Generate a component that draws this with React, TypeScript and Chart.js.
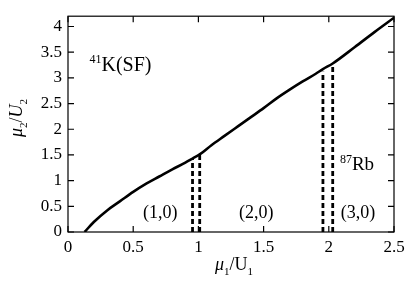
import { useEffect, useRef } from 'react';
import { Chart, registerables } from 'chart.js';

Chart.register(...registerables);

// Phase boundary curve mu2/U2 vs mu1/U1
const curveX = [0.127, 0.2, 0.3, 0.4, 0.5, 0.6, 0.7, 0.8, 0.9, 0.955, 1.01, 1.1, 1.2, 1.3, 1.4, 1.5, 1.6, 1.7, 1.8, 1.9, 1.955, 2.03, 2.2, 2.35, 2.5];
const curveY = [0.0, 0.2, 0.42, 0.6, 0.78, 0.94, 1.08, 1.22, 1.35, 1.43, 1.51, 1.69, 1.87, 2.05, 2.23, 2.41, 2.6, 2.77, 2.93, 3.08, 3.17, 3.28, 3.6, 3.89, 4.17];

// Dashed vertical boundaries (x position, top value)
const kDashX = [0.955, 1.01];
const kDashTop = [1.43, 1.51];
const rbDashX = [1.955, 2.03];
const rbDashTop = [3.12, 3.27];

const xTickValues = [0, 0.5, 1, 1.5, 2, 2.5];
const yTickValues = [0, 0.5, 1, 1.5, 2, 2.5, 3, 3.5, 4];

const phaseLabels = ['(1,0)', '(2,0)', '(3,0)'];
const phaseLabelX = [0.707, 1.444, 2.224];
const phaseLabelY = [0.37, 0.37, 0.37];

const SERIF = "'Liberation Serif', serif";

type Seg = { t: string; italic?: boolean; sub?: boolean; sup?: boolean };

function drawSegs(ctx: CanvasRenderingContext2D, segs: Seg[], x: number, y: number, size: number, align: 'left' | 'center') {
  const fontFor = (s: Seg) => `${s.italic ? 'italic ' : ''}${s.sub || s.sup ? Math.round(size * 0.62) : size}px ${SERIF}`;
  let total = 0;
  for (const s of segs) {
    ctx.font = fontFor(s);
    total += ctx.measureText(s.t).width;
  }
  let cx = align === 'center' ? x - total / 2 : x;
  ctx.textBaseline = 'alphabetic';
  ctx.textAlign = 'left';
  for (const s of segs) {
    ctx.font = fontFor(s);
    const dy = s.sub ? size * 0.25 : s.sup ? -size * 0.4 : 0;
    ctx.fillText(s.t, cx, y + dy);
    cx += ctx.measureText(s.t).width;
  }
}

const framePlugin = {
  id: 'frame',
  afterDraw(chart: any) {
    const { ctx, chartArea: a, scales } = chart;
    const xs = scales.x;
    const ys = scales.y;
    ctx.save();
    ctx.strokeStyle = '#000';
    ctx.lineWidth = 1.2;
    ctx.strokeRect(a.left, a.top, a.right - a.left, a.bottom - a.top);
    const tl = 6;
    ctx.beginPath();
    for (const v of xTickValues) {
      const px = xs.getPixelForValue(v);
      ctx.moveTo(px, a.bottom);
      ctx.lineTo(px, a.bottom - tl);
      ctx.moveTo(px, a.top);
      ctx.lineTo(px, a.top + tl);
    }
    for (const v of yTickValues) {
      const py = ys.getPixelForValue(v);
      ctx.moveTo(a.left, py);
      ctx.lineTo(a.left + tl, py);
      ctx.moveTo(a.right, py);
      ctx.lineTo(a.right - tl, py);
    }
    ctx.stroke();

    ctx.fillStyle = '#000';
    // phase labels
    ctx.font = `18px ${SERIF}`;
    ctx.textAlign = 'center';
    ctx.textBaseline = 'middle';
    phaseLabels.forEach((lab, i) => {
      ctx.fillText(lab, xs.getPixelForValue(phaseLabelX[i]), ys.getPixelForValue(phaseLabelY[i]));
    });
    // species labels
    drawSegs(ctx, [{ t: '41', sup: true }, { t: 'K(SF)' }], xs.getPixelForValue(0.165), ys.getPixelForValue(3.13), 20, 'left');
    drawSegs(ctx, [{ t: '87', sup: true }, { t: 'Rb' }], xs.getPixelForValue(2.085), ys.getPixelForValue(1.2), 19, 'left');

    // axis titles
    drawSegs(ctx, [{ t: 'μ', italic: true }, { t: '1', sub: true }, { t: '/U' }, { t: '1', sub: true }], 234, 270, 18, 'center');
    ctx.save();
    ctx.translate(22, 118);
    ctx.rotate(-Math.PI / 2);
    drawSegs(ctx, [{ t: 'μ', italic: true }, { t: '2', sub: true }, { t: '/' }, { t: 'U', italic: true }, { t: '2', sub: true }], 0, 0, 18, 'center');
    ctx.restore();
    ctx.restore();
  },
};

export default function App() {
  const ref = useRef<HTMLCanvasElement | null>(null);
  useEffect(() => {
    if (!ref.current) return;
    const dash = (xv: number, top: number) => ({
      data: [{ x: xv, y: 0 }, { x: xv, y: top }],
      borderColor: '#000',
      borderWidth: 2.8,
      borderDash: [5, 3],
      pointRadius: 0,
      showLine: true,
      fill: false,
    });
    const chart = new Chart(ref.current, {
      type: 'scatter',
      data: {
        datasets: [
          {
            data: curveX.map((x, i) => ({ x, y: curveY[i] })),
            borderColor: '#000',
            borderWidth: 2.6,
            pointRadius: 0,
            showLine: true,
            tension: 0.3,
            cubicInterpolationMode: 'monotone',
            fill: false,
          } as any,
          ...kDashX.map((x, i) => dash(x, kDashTop[i])),
          ...rbDashX.map((x, i) => dash(x, rbDashTop[i])),
        ],
      },
      options: {
        responsive: false,
        animation: false,
        layout: { padding: { top: 4, right: 21, left: 0, bottom: 0 } },
        plugins: { legend: { display: false }, tooltip: { enabled: false } },
        scales: {
          x: {
            type: 'linear',
            min: 0,
            max: 2.5,
            afterFit: (s: any) => { s.height = 54; },
            afterBuildTicks: (s: any) => { s.ticks = xTickValues.map((v) => ({ value: v })); },
            grid: { display: false, drawTicks: false },
            border: { display: false },
            ticks: { color: '#000', padding: 5, font: { family: SERIF, size: 17 }, maxRotation: 0, callback: (v: any) => String(v) },
          },
          y: {
            type: 'linear',
            min: 0,
            max: 4.2,
            afterFit: (s: any) => { s.width = 68; },
            afterBuildTicks: (s: any) => { s.ticks = yTickValues.map((v) => ({ value: v })); },
            grid: { display: false, drawTicks: false },
            border: { display: false },
            ticks: { color: '#000', padding: 6, font: { family: SERIF, size: 17 }, callback: (v: any) => String(v) },
          },
        },
      },
      plugins: [framePlugin],
    });
    return () => chart.destroy();
  }, []);
  return (
    <div style={{ position: 'absolute', left: 0, top: 0, width: 415, height: 286, background: '#fff' }}>
      <canvas ref={ref} width={415} height={286} />
    </div>
  );
}
